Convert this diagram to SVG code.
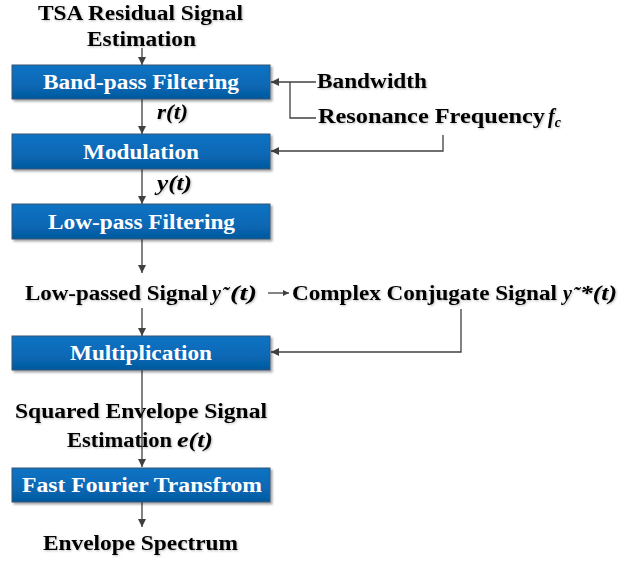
<svg xmlns="http://www.w3.org/2000/svg" width="639" height="562" viewBox="0 0 639 562">
  <defs>
    <linearGradient id="boxFill" x1="0" y1="0" x2="0" y2="1">
      <stop offset="0" stop-color="#0B73C4"/>
      <stop offset="0.55" stop-color="#0869B6"/>
      <stop offset="1" stop-color="#05599E"/>
    </linearGradient>
    <filter id="boxShadow" x="-5%" y="-20%" width="115%" height="150%">
      <feDropShadow dx="2" dy="2" stdDeviation="1.2" flood-color="#000" flood-opacity="0.35"/>
    </filter>
    <filter id="txtShadow" x="-5%" y="-20%" width="115%" height="150%">
      <feDropShadow dx="1" dy="1" stdDeviation="0.8" flood-color="#000" flood-opacity="0.25"/>
    </filter>
    <marker id="arrow" viewBox="0 0 10 10" refX="10" refY="5" markerWidth="9" markerHeight="8" markerUnits="userSpaceOnUse" orient="auto">
      <path d="M0,0 L10,5 L0,10 z" fill="#404040"/>
    </marker>
    <marker id="arrowSmall" viewBox="0 0 10 10" refX="10" refY="5" markerWidth="7" markerHeight="6" markerUnits="userSpaceOnUse" orient="auto">
      <path d="M0,0 L10,5 L0,10 z" fill="#404040"/>
    </marker>
  </defs>
  <style>
    .box { fill: url(#boxFill); stroke: #3A5570; stroke-width: 1; filter: url(#boxShadow); }
    .btxt { font-family: "Liberation Serif", "Times New Roman", serif; font-weight: bold; font-size: 20px; fill: #FFFFFF; }
    .lbl { font-family: "Liberation Serif", "Times New Roman", serif; font-weight: bold; font-size: 20px; fill: #000000; filter: url(#txtShadow); }
    .it { font-style: italic; }
    .conn { fill: none; stroke: #404040; stroke-width: 1.3; }
  </style>

  <g id="input-label">
    <text class="lbl" x="38" y="20" textLength="205" lengthAdjust="spacingAndGlyphs">TSA Residual Signal</text>
    <text class="lbl" x="87" y="46" textLength="109" lengthAdjust="spacingAndGlyphs">Estimation</text>
  </g>

  <g id="connectors">
    <path class="conn" d="M142,48 V65" marker-end="url(#arrow)"/>
    <path class="conn" d="M142,99 V134" marker-end="url(#arrow)"/>
    <path class="conn" d="M142,169 V204" marker-end="url(#arrow)"/>
    <path class="conn" d="M142,239 V273" marker-end="url(#arrow)"/>
    <path class="conn" d="M142,308 V336" marker-end="url(#arrow)"/>
    <path class="conn" d="M142,370 V467" marker-end="url(#arrow)"/>
    <path class="conn" d="M142,502 V527" marker-end="url(#arrow)"/>
    <path class="conn" d="M316,82 H271" marker-end="url(#arrow)"/>
    <path class="conn" d="M290,82 V118 H316"/>
    <path class="conn" d="M443,135 V151 H271" marker-end="url(#arrow)"/>
    <path class="conn" d="M461,309 V352 H271" marker-end="url(#arrow)"/>
    <path class="conn" d="M268,293 H289" marker-end="url(#arrowSmall)"/>
  </g>

  <g id="bandpass">
    <rect class="box" x="12" y="65" width="258" height="34"/>
    <text class="btxt" x="43" y="89" textLength="196" lengthAdjust="spacingAndGlyphs">Band-pass Filtering</text>
  </g>
  <g id="bandwidth">
    <text class="lbl" x="317" y="88" textLength="110" lengthAdjust="spacingAndGlyphs">Bandwidth</text>
  </g>
  <g id="resonance">
    <text class="lbl" x="318" y="123" textLength="227" lengthAdjust="spacingAndGlyphs">Resonance Frequency</text>
    <text class="lbl it" x="548" y="123">f<tspan font-size="14" dy="4">c</tspan></text>
  </g>
  <g id="r-label">
    <text class="lbl it" x="157" y="119" textLength="31" lengthAdjust="spacingAndGlyphs">r(t)</text>
  </g>

  <g id="modulation">
    <rect class="box" x="12" y="134" width="258" height="35"/>
    <text class="btxt" x="83" y="159" textLength="116" lengthAdjust="spacingAndGlyphs">Modulation</text>
  </g>
  <g id="y-label">
    <text class="lbl it" x="157" y="190" textLength="35" lengthAdjust="spacingAndGlyphs">y(t)</text>
  </g>

  <g id="lowpass">
    <rect class="box" x="12" y="204" width="258" height="35"/>
    <text class="btxt" x="48" y="229" textLength="187" lengthAdjust="spacingAndGlyphs">Low-pass Filtering</text>
  </g>

  <g id="lowpassed-signal">
    <text class="lbl" x="25" y="300" textLength="183" lengthAdjust="spacingAndGlyphs">Low-passed Signal</text>
    <text class="lbl it" x="212" y="300">y</text>
    <text class="lbl it" x="222" y="301" font-size="16">˜</text>
    <text class="lbl it" x="230" y="300" textLength="27" lengthAdjust="spacingAndGlyphs">(t)</text>
  </g>
  <g id="conjugate-signal">
    <text class="lbl" x="292" y="300" textLength="265" lengthAdjust="spacingAndGlyphs">Complex Conjugate Signal</text>
    <text class="lbl it" x="563" y="300">y</text>
    <text class="lbl it" x="573" y="301" font-size="16">˜</text>
    <text class="lbl it" x="580" y="300" textLength="37" lengthAdjust="spacingAndGlyphs">*(t)</text>
  </g>

  <g id="multiplication">
    <rect class="box" x="12" y="336" width="258" height="34"/>
    <text class="btxt" x="70" y="360" textLength="142" lengthAdjust="spacingAndGlyphs">Multiplication</text>
  </g>

  <g id="envelope-estimate">
    <text class="lbl" x="15" y="418" textLength="252" lengthAdjust="spacingAndGlyphs">Squared Envelope Signal</text>
    <text class="lbl" x="67" y="447" textLength="105" lengthAdjust="spacingAndGlyphs">Estimation</text>
    <text class="lbl it" x="177" y="447" textLength="36" lengthAdjust="spacingAndGlyphs">e(t)</text>
  </g>

  <g id="fft">
    <rect class="box" x="12" y="468" width="258" height="34"/>
    <text class="btxt" x="22" y="492" textLength="240" lengthAdjust="spacingAndGlyphs">Fast Fourier Transfrom</text>
  </g>

  <g id="spectrum">
    <text class="lbl" x="43" y="550" textLength="195" lengthAdjust="spacingAndGlyphs">Envelope Spectrum</text>
  </g>
</svg>
